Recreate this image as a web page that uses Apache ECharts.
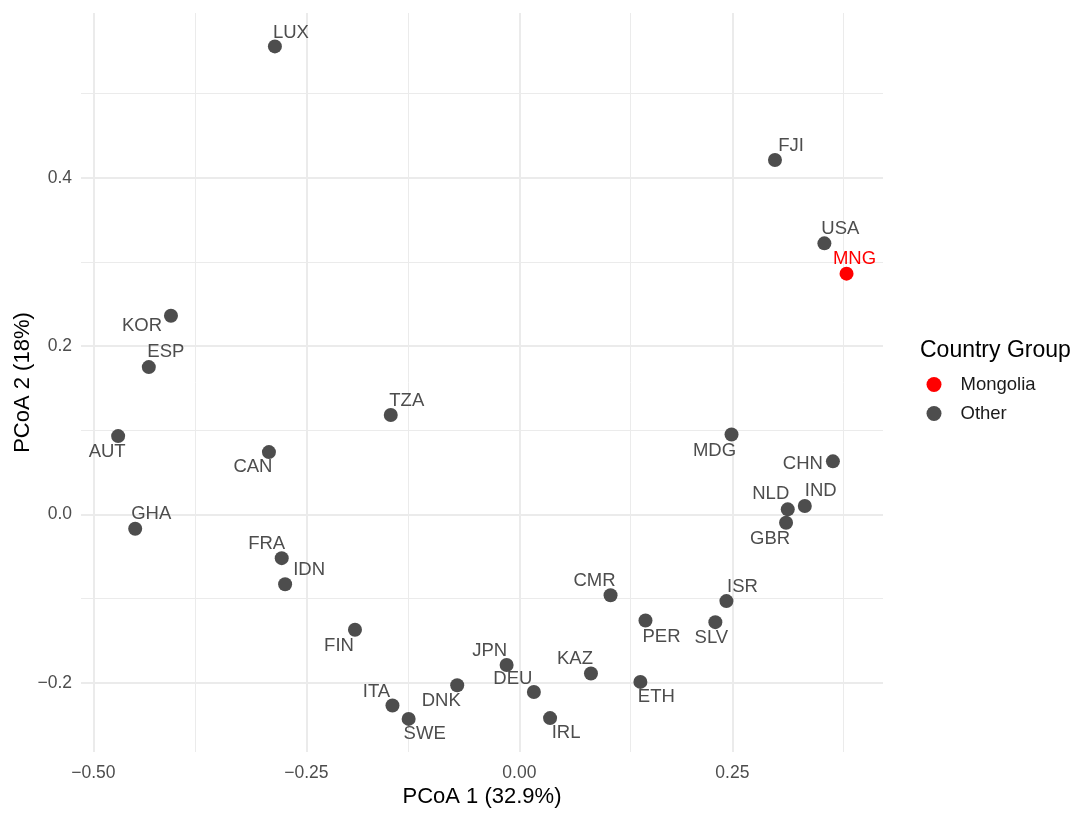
<!DOCTYPE html>
<html>
<head>
<meta charset="utf-8">
<script src="https://cdn.jsdelivr.net/npm/echarts@6/dist/echarts.min.js"></script>
<style>
  html, body { margin: 0; padding: 0; background: #ffffff; }
  #chart { width: 1084px; height: 817px; }
</style>
</head>
<body>
<div id="chart"></div>
<script>
// ---- Data ----
const countries = ['LUX','KOR','ESP','TZA','FJI','USA','MNG','AUT','CAN','GHA','FRA','IDN','FIN','JPN','DNK','ITA','SWE','DEU','MDG','CHN','NLD','IND','GBR','CMR','ISR','PER','SLV','KAZ','ETH','IRL'];
const pcoa1 = [-0.287,-0.409,-0.435,-0.151,0.300,0.358,0.384,-0.471,-0.294,-0.451,-0.279,-0.275,-0.193,-0.015,-0.073,-0.149,-0.130,0.017,0.249,0.368,0.315,0.335,0.313,0.107,0.243,0.148,0.230,0.084,0.142,0.036];
const pcoa2 = [0.556,0.236,0.175,0.118,0.421,0.322,0.286,0.093,0.074,-0.017,-0.052,-0.083,-0.137,-0.179,-0.203,-0.227,-0.243,-0.211,0.095,0.063,0.006,0.010,-0.010,-0.096,-0.103,-0.126,-0.128,-0.189,-0.199,-0.242];
const groups = countries.map(c => c === 'MNG' ? 'Mongolia' : 'Other');
const groupNames = ['Mongolia', 'Other'];
const xTicks = [-0.5, -0.25, 0, 0.25];
const yTicks = [-0.2, 0, 0.2, 0.4];
const xMinorTicks = [-0.375, -0.125, 0.125, 0.375];
const yMinorTicks = [-0.1, 0.1, 0.3, 0.5];

// ---- Styling (label offsets in pixels, relative to point center) ----
const labelOffsets = {
  LUX:[16,-14], KOR:[-29,10], ESP:[17,-15], TZA:[16,-14], FJI:[16,-14], USA:[16,-14], MNG:[8,-15],
  AUT:[-11,16], CAN:[-16,15], GHA:[16,-15], FRA:[-15,-14], IDN:[24,-14], FIN:[-16,16], JPN:[-17,-14],
  DNK:[-16,16], ITA:[-16,-14], SWE:[16,15], DEU:[-21,-13], MDG:[-17,16], CHN:[-30,3], NLD:[-17,-15],
  IND:[16,-15], GBR:[-16,16], CMR:[-16,-14], ISR:[16,-14], PER:[16,16], SLV:[-4,16], KAZ:[-16,-15],
  ETH:[16,15], IRL:[16,15]
};
const colors = { Mongolia: '#FF0000', Other: '#4D4D4D' };
const FONT = '"Liberation Sans", Arial, sans-serif';
const SYM = 14;

function fmtMinus(v, d) {
  const s = Math.abs(v).toFixed(d);
  return (v < -1e-9 ? '\u2212' : '') + s;
}

const gridLineData = [];
xTicks.forEach(v => gridLineData.push({ xAxis: v, lineStyle: { color: '#EBEBEB', width: 2, type: 'solid' } }));
xMinorTicks.forEach(v => gridLineData.push({ xAxis: v, lineStyle: { color: '#EBEBEB', width: 1, type: 'solid' } }));
yTicks.forEach(v => gridLineData.push({ yAxis: v, lineStyle: { color: '#EBEBEB', width: 2, type: 'solid' } }));
yMinorTicks.forEach(v => gridLineData.push({ yAxis: v, lineStyle: { color: '#EBEBEB', width: 1, type: 'solid' } }));

const series = [{
  name: '_grid',
  type: 'scatter',
  data: [],
  z: 0,
  silent: true,
  markLine: {
    z: 0,
    zlevel: 0,
    silent: true,
    symbol: ['none', 'none'],
    label: { show: false },
    animation: false,
    data: gridLineData
  }
}];

groupNames.forEach(g => {
  const pts = [];
  countries.forEach((c, i) => {
    if (groups[i] !== g) return;
    const off = labelOffsets[c] || [0, -15];
    pts.push({
      value: [pcoa1[i], pcoa2[i]],
      name: c,
      label: {
        show: true,
        position: [SYM / 2 + off[0], SYM / 2 + off[1]],
        align: 'center',
        verticalAlign: 'middle'
      }
    });
  });
  series.push({
    name: g,
    type: 'scatter',
    z: 10,
    symbol: 'circle',
    symbolSize: SYM,
    itemStyle: { color: colors[g], opacity: 1 },
    label: {
      show: true,
      align: 'center',
      verticalAlign: 'middle',
      formatter: p => p.name,
      color: colors[g],
      textBorderWidth: 0,
      fontSize: 18.5,
      fontFamily: FONT
    },
    labelLayout: { hideOverlap: false },
    data: pts
  });
});

const chart = echarts.init(document.getElementById('chart'), null, { renderer: 'canvas' });
chart.setOption({
  animation: false,
  backgroundColor: '#ffffff',
  title: {
    text: 'Country Group',
    left: 915,
    top: 334,
    textStyle: { fontSize: 23, fontWeight: 'normal', color: '#000000', fontFamily: FONT }
  },
  legend: {
    data: groupNames,
    orient: 'vertical',
    left: 921.5,
    top: 370,
    icon: 'circle',
    itemWidth: 15,
    itemHeight: 15,
    itemGap: 10,
    textStyle: { fontSize: 18.5, color: '#1A1A1A', fontFamily: FONT, padding: [0, 0, 0, 14] }
  },
  grid: { left: 81, right: 201, top: 13, bottom: 65, containLabel: false, outerBoundsMode: 'none' },
  xAxis: {
    type: 'value',
    min: -0.5146,
    max: 0.4268,
    name: 'PCoA 1 (32.9%)',
    nameLocation: 'middle',
    nameGap: 34,
    nameMoveOverlap: false,
    nameTextStyle: { fontSize: 22, color: '#000000', fontFamily: FONT },
    axisLine: { show: false },
    axisTick: { show: false },
    splitLine: { show: false },
    axisLabel: {
      customValues: xTicks,
      formatter: v => fmtMinus(v, 2),
      fontSize: 17.5,
      color: '#4D4D4D',
      fontFamily: FONT,
      margin: 12
    }
  },
  yAxis: {
    type: 'value',
    min: -0.2823,
    max: 0.5957,
    name: 'PCoA 2 (18%)',
    nameLocation: 'middle',
    nameRotate: 90,
    nameGap: 47,
    nameMoveOverlap: false,
    nameTextStyle: { fontSize: 22, color: '#000000', fontFamily: FONT },
    axisLine: { show: false },
    axisTick: { show: false },
    splitLine: { show: false },
    axisLabel: {
      customValues: yTicks,
      formatter: v => fmtMinus(v, 1),
      fontSize: 17.5,
      color: '#4D4D4D',
      fontFamily: FONT,
      margin: 9
    }
  },
  series: series
});
</script>
</body>
</html>
